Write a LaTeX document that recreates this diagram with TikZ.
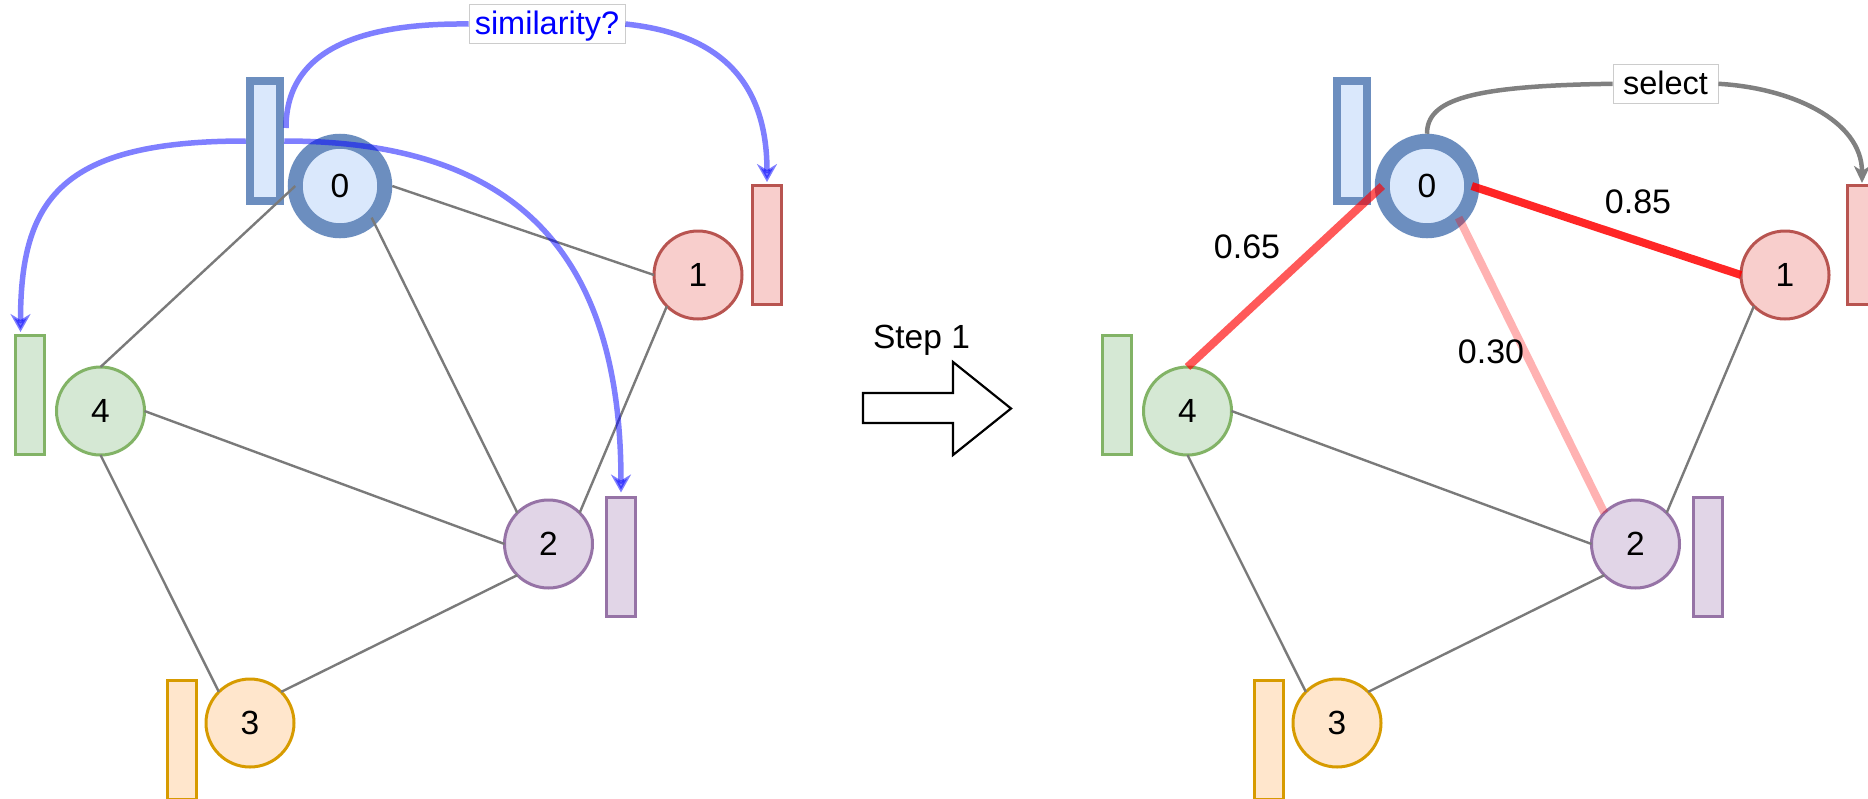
\documentclass[tikz,border=0pt]{standalone}
\usepackage{fontspec}
\setmainfont{Liberation Sans}
\usetikzlibrary{arrows.meta,calc}

\definecolor{bluefill}{HTML}{DAE8FC}
\definecolor{bluestroke}{HTML}{6C8EBF}
\definecolor{redfill}{HTML}{F8CECC}
\definecolor{redstroke}{HTML}{B85450}
\definecolor{greenfill}{HTML}{D5E8D4}
\definecolor{greenstroke}{HTML}{82B366}
\definecolor{purplefill}{HTML}{E1D5E7}
\definecolor{purplestroke}{HTML}{9673A6}
\definecolor{orangefill}{HTML}{FFE6CC}
\definecolor{orangestroke}{HTML}{D79B00}
\definecolor{edgegray}{HTML}{7A7A7A}
\definecolor{selgray}{HTML}{808080}
\definecolor{boxline}{HTML}{CCCCCC}

\begin{document}
\begin{tikzpicture}[x=1pt,y=-1pt,
  vert/.style={circle, inner sep=0pt, outer sep=0pt, minimum size=88pt,
    line width=3pt, font=\fontsize{33.5}{40}\selectfont},
  vertzero/.style={vert, draw=bluestroke, fill=bluefill, minimum size=89.5pt, line width=15pt},
  vone/.style={vert, draw=redstroke, fill=redfill},
  vtwo/.style={vert, draw=purplestroke, fill=purplefill},
  vthree/.style={vert, draw=orangestroke, fill=orangefill},
  vfour/.style={vert, draw=greenstroke, fill=greenfill},
  feat/.style={rectangle, inner sep=0pt, outer sep=1.5pt, minimum width=29pt,
    minimum height=119pt, line width=3pt},
  featzero/.style={feat, draw=bluestroke, fill=bluefill, outer sep=0pt,
    minimum width=30pt, minimum height=120pt, line width=8.5pt},
  fone/.style={feat, draw=redstroke, fill=redfill},
  ftwo/.style={feat, draw=purplestroke, fill=purplefill},
  fthree/.style={feat, draw=orangestroke, fill=orangefill},
  ffour/.style={feat, draw=greenstroke, fill=greenfill},
  link/.style={draw=edgegray, line width=2.4pt},
  weighted/.style={draw=red, line width=8pt, draw opacity=#1},
  wlabel/.style={inner sep=0pt, font=\fontsize{34}{40}\selectfont},
  lbox/.style={draw=boxline, fill=white, line width=0.8pt, inner sep=0pt,
    text height=30pt, text depth=8.5pt, font=\fontsize{32.5}{38}\selectfont},
  simline/.style={draw=blue, opacity=0.5, line width=5.5pt},
  simcurve/.style={simline, -{Stealth[length=18pt,width=20pt,inset=6pt]}},
  selline/.style={draw=selgray, line width=4.5pt},
  selcurve/.style={selline, -{Stealth[length=17pt,width=16pt,inset=5pt]}}
]
\useasboundingbox (0,0) rectangle (1868,798);
\clip (0,0) rectangle (1868,798);

% ---------------- left graph ----------------
\node[vertzero] (a0) at (340,186) {0};
\node[vone]   (a1) at (698,275) {1};
\node[vtwo]   (a2) at (548.5,544) {2};
\node[vthree] (a3) at (250,723) {3};
\node[vfour]  (a4) at (100.5,411) {4};

\node[featzero] (fa0) at (265,141) {};
\node[fone]   (fa1) at (767,245) {};
\node[ftwo]   (fa2) at (621,556.5) {};
\node[fthree] (fa3) at (181.5,739.5) {};
\node[ffour]  (fa4) at (29.5,395) {};

\draw[link] ($(a0.east)+(7.5,0)$) -- (a1.west);
\draw[link] (a0.west) -- (a4.north);
\draw[link] (a0.south east) -- (a2.north west);
\draw[link] (a1.south west) -- (a2.north east);
\draw[link] (a4.east) -- (a2.west);
\draw[link] (a4.south) -- (a3.north west);
\draw[link] (a3.north east) -- (a2.south west);

% similarity queries from node 0's feature
\node[lbox, text=blue, minimum width=156pt] (simlab) at (547,24) {similarity?};
\draw[simline]
  ($(fa0.east)+(6,-13)$) .. controls +(0,-83) and +(-99,-1) .. (simlab.west);
\draw[simcurve] (simlab.east) .. controls +(95,10) and +(0,-100) .. ($(fa1.north)+(0,-2)$);
\draw[simcurve] ($(fa0.west)+(-4.25,0)$) .. controls +(-185,0) and +(0,-133) .. ($(fa4.north)+(-9,-2)$);
\draw[simcurve] ($(fa0.east)+(4.25,0)$) .. controls +(236,0) and +(0,-235) .. ($(fa2.north)+(0,-3)$);

% ---------------- step arrow ----------------
\node[anchor=base, inner sep=0pt, font=\fontsize{33.5}{40}\selectfont] (steplab) at (921.5,348) {Step 1};
\draw[line width=2.2pt, fill=white, line join=miter]
  (863,393) -- (953,393) -- (953,362) -- (1011,408.5) -- (953,455) -- (953,423) -- (863,423) -- cycle;

% ---------------- right graph ----------------
\node[vertzero] (b0) at (1427,186) {0};
\node[vone]   (b1) at (1785,275) {1};
\node[vtwo]   (b2) at (1635.5,544) {2};
\node[vthree] (b3) at (1337,723) {3};
\node[vfour]  (b4) at (1187.5,411) {4};

\node[featzero] (fb0) at (1352,141) {};
\node[fone]   (fb1) at (1862,245) {};
\node[ftwo]   (fb2) at (1708,556.5) {};
\node[fthree] (fb3) at (1268.5,739.5) {};
\node[ffour]  (fb4) at (1116.5,395) {};

\draw[link] (b1.south west) -- (b2.north east);
\draw[link] (b4.east) -- (b2.west);
\draw[link] (b4.south) -- (b3.north west);
\draw[link] (b3.north east) -- (b2.south west);
\draw[weighted=0.85] (b0.east) -- (b1.west);
\draw[weighted=0.65] (b0.west) -- (b4.north);
\draw[weighted=0.30] (b0.south east) -- (b2.north west);

\node[wlabel] (w01) at (1638,202) {0.85};
\node[wlabel] (w04) at (1247,247) {0.65};
\node[wlabel] (w02) at (1491,352) {0.30};

% selection of the most similar neighbour
\node[lbox, minimum width=105pt] (sellab) at (1665.5,83.8) {select};
\draw[selline]
  ($(b0.north)+(0,-7.5)$) .. controls +(0,-34) and +(-143,2) .. (sellab.west);
\draw[selcurve] (sellab.east) .. controls +(72,4) and +(0,-63) .. ($(fb1.north)+(0,-1)$);
\end{tikzpicture}
\end{document}
